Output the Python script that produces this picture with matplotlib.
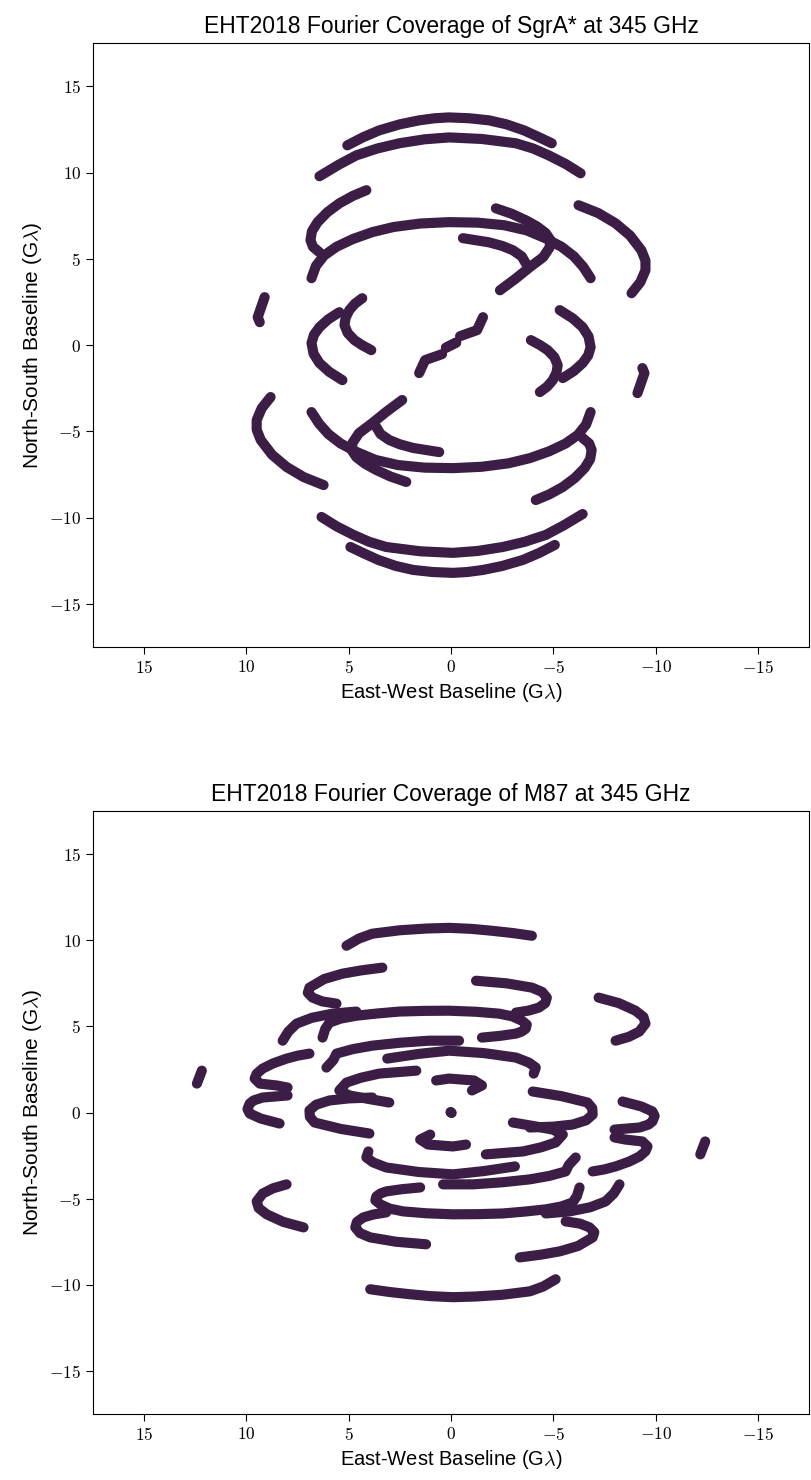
import matplotlib
matplotlib.use("Agg")
import matplotlib.pyplot as plt
from matplotlib.ticker import FuncFormatter

plt.rcParams["font.family"] = ["Liberation Sans", "DejaVu Sans"]
plt.rcParams["mathtext.fontset"] = "cm"

TRACK_COLOR = "#3b1d46"

# (u, v) tracks in Glambda, one half of the plane only; the conjugate
# (-u, -v) track is drawn as well
sgra_tracks = [
    [(5.07, 11.58), (4.3, 12.05), (3.51, 12.45), (2.5, 12.8), (1.56, 13.03), (0.8, 13.15), (0.10, 13.20),
     (-0.9, 13.15), (-1.85, 13.03), (-2.7, 12.8), (-3.56, 12.45), (-4.3, 12.05), (-4.92, 11.70)],
    [(6.43, 9.79), (5.5, 10.45), (4.63, 11.00), (3.6, 11.4), (2.53, 11.70), (1.3, 11.93), (0.10, 12.04),
     (-1.5, 11.95), (-3.17, 11.70), (-4.0, 11.4), (-4.77, 11.00), (-5.6, 10.5), (-6.33, 9.96)],
    [(6.82, 3.88), (6.6, 4.6), (6.2, 5.2), (5.6, 5.7), (4.8, 6.15), (3.85, 6.55), (2.8, 6.85), (1.5, 7.05),
     (0.1, 7.13), (-1.3, 7.1), (-2.6, 6.95), (-3.7, 6.65), (-4.6, 6.2), (-5.4, 5.7), (-6.0, 5.15),
     (-6.45, 4.55), (-6.82, 3.88)],
    [(4.14, 8.98), (4.8, 8.65), (5.46, 8.22), (6.05, 7.7), (6.53, 7.12), (6.8, 6.6), (6.87, 6.08),
     (6.75, 5.7), (6.43, 5.38)],
    [(-2.19, 7.93), (-2.95, 7.62), (-3.65, 7.24), (-4.2, 6.88), (-4.63, 6.49), (-4.85, 6.1), (-4.82, 5.67),
     (-4.5, 5.1), (-3.85, 4.52), (-3.15, 3.85), (-2.39, 3.18)],
    [(-0.58, 6.20), (-1.85, 5.96), (-2.5, 5.75), (-3.02, 5.50), (-3.45, 5.15), (-3.65, 4.75)],
    [(-6.23, 8.11), (-7.2, 7.65), (-8.04, 7.06), (-8.75, 6.35), (-9.30, 5.50), (-9.5, 4.9), (-9.50, 4.34),
     (-9.25, 3.65), (-8.82, 3.01)],
    [(-0.44, 0.52), (-1.27, 0.87), (-1.56, 1.62)],
    [(9.11, 2.78), (9.45, 1.62), (9.35, 1.33)],
    [(4.34, 2.72), (4.7, 2.4), (4.97, 2.03), (5.15, 1.6), (5.21, 1.16), (5.05, 0.7), (4.72, 0.29),
     (4.35, 0.0), (3.90, -0.29)],
    [(5.46, 1.91), (6.0, 1.5), (6.43, 1.04), (6.7, 0.6), (6.82, 0.12), (6.72, -0.5), (6.43, -1.04),
     (5.95, -1.55), (5.31, -2.03)],
    [(0.25, -0.15), (-0.25, 0.15)],
]

m87_tracks = [
    [(5.11, 9.68), (4.5, 10.1), (3.85, 10.38), (2.5, 10.58), (1.2, 10.68), (0.10, 10.72), (-1.0, 10.66),
     (-2.00, 10.55), (-3.0, 10.42), (-3.95, 10.26)],
    [(3.36, 8.41), (4.4, 8.25), (5.31, 8.06), (6.2, 7.75), (6.92, 7.25), (7.0, 6.95), (6.77, 6.67),
     (6.3, 6.45), (5.60, 6.32)],
    [(-1.22, 7.65), (-2.7, 7.5), (-3.95, 7.25), (-4.45, 7.0), (-4.68, 6.67), (-4.6, 6.35), (-4.29, 6.09),
     (-3.8, 5.92), (-3.17, 5.80)],
    [(8.23, 4.17), (7.95, 4.7), (7.55, 5.16), (6.8, 5.5), (5.80, 5.74), (4.63, 5.86)],
    [(6.28, 4.35), (6.15, 4.85), (5.94, 5.22), (5.4, 5.45), (4.63, 5.62), (3.6, 5.75), (2.53, 5.86),
     (1.3, 5.9), (0.10, 5.91), (-1.2, 5.85), (-2.34, 5.74), (-3.0, 5.58), (-3.46, 5.33), (-3.7, 5.1),
     (-3.65, 4.87), (-3.45, 4.7), (-3.17, 4.58), (-2.4, 4.45), (-1.51, 4.35)],
    [(-7.21, 6.67), (-8.2, 6.35), (-9.01, 5.91), (-9.4, 5.55), (-9.50, 5.16), (-9.2, 4.7), (-8.7, 4.4),
     (-8.04, 4.17)],
    [(6.92, 3.42), (7.5, 3.3), (8.04, 3.13), (8.7, 2.85), (9.21, 2.55), (9.5, 2.25), (9.60, 1.97),
     (9.35, 1.68), (8.52, 1.57), (7.99, 1.45)],
    [(7.99, 0.99), (9.21, 0.87), (9.65, 0.7), (9.84, 0.52), (9.95, 0.2), (9.84, -0.06), (9.3, -0.35),
     (8.38, -0.64)],
    [(12.18, 2.43), (12.42, 1.68)],
    [(6.09, 2.61), (5.75, 3.05), (5.60, 3.42), (4.8, 3.68), (3.85, 3.88), (2.5, 4.05), (1.07, 4.17),
     (-0.39, 4.17)],
    [(3.12, 3.13), (1.6, 3.4), (0.10, 3.59), (-1.6, 3.45), (-3.17, 3.19), (-3.8, 2.9), (-4.14, 2.61),
     (-4.04, 2.26)],
    [(1.70, 2.43), (3.51, 2.26), (4.4, 2.02), (5.11, 1.74), (5.46, 1.28), (4.97, 0.99), (4.0, 0.78),
     (3.02, 0.58)],
    [(3.85, 0.87), (5.0, 0.82), (5.94, 0.70), (6.6, 0.45), (6.92, 0.12), (6.9, -0.25), (6.67, -0.58),
     (5.4, -0.95), (3.99, -1.22)],
    [(0.73, 1.86), (0.10, 1.97), (-1.12, 1.86), (-1.51, 1.57), (-1.02, 1.28)],
    [(0.02, 0.02), (-0.02, -0.02)],
]

sources = ["SgrA*", "M87"]
ticks = [15, 10, 5, 0, -5, -10, -15]
lim = 17.5


def draw_coverage(ax, tracks, source):
    for track in tracks:
        u = [p[0] for p in track]
        v = [p[1] for p in track]
        for sign in (1, -1):
            ax.plot([sign * x for x in u], [sign * y for y in v], color=TRACK_COLOR,
                    lw=7.3, solid_capstyle="round", solid_joinstyle="round")
    ax.set_xlim(lim, -lim)
    ax.set_ylim(-lim, lim)
    ax.set_xticks(ticks)
    ax.set_yticks(ticks)
    fmt = FuncFormatter(lambda x, _: f"${int(x)}$")
    ax.xaxis.set_major_formatter(fmt)
    ax.yaxis.set_major_formatter(fmt)
    ax.tick_params(labelsize=12.5, length=5)
    ax.set_title(f"EHT2018 Fourier Coverage of {source} at 345 GHz", fontsize=16.5, pad=7)
    ax.set_xlabel(r"East-West Baseline (G$\lambda$)", fontsize=14.5)
    ax.set_ylabel(r"North-South Baseline (G$\lambda$)", fontsize=15)


fig = plt.figure(figsize=(8.12, 14.8), dpi=100)
ax1 = fig.add_axes([0.1145, 0.5628, 0.882, 0.408])
ax2 = fig.add_axes([0.1145, 0.0446, 0.882, 0.4074])
draw_coverage(ax1, sgra_tracks, sources[0])
draw_coverage(ax2, m87_tracks, sources[1])

fig.savefig("out.png", dpi=100)
